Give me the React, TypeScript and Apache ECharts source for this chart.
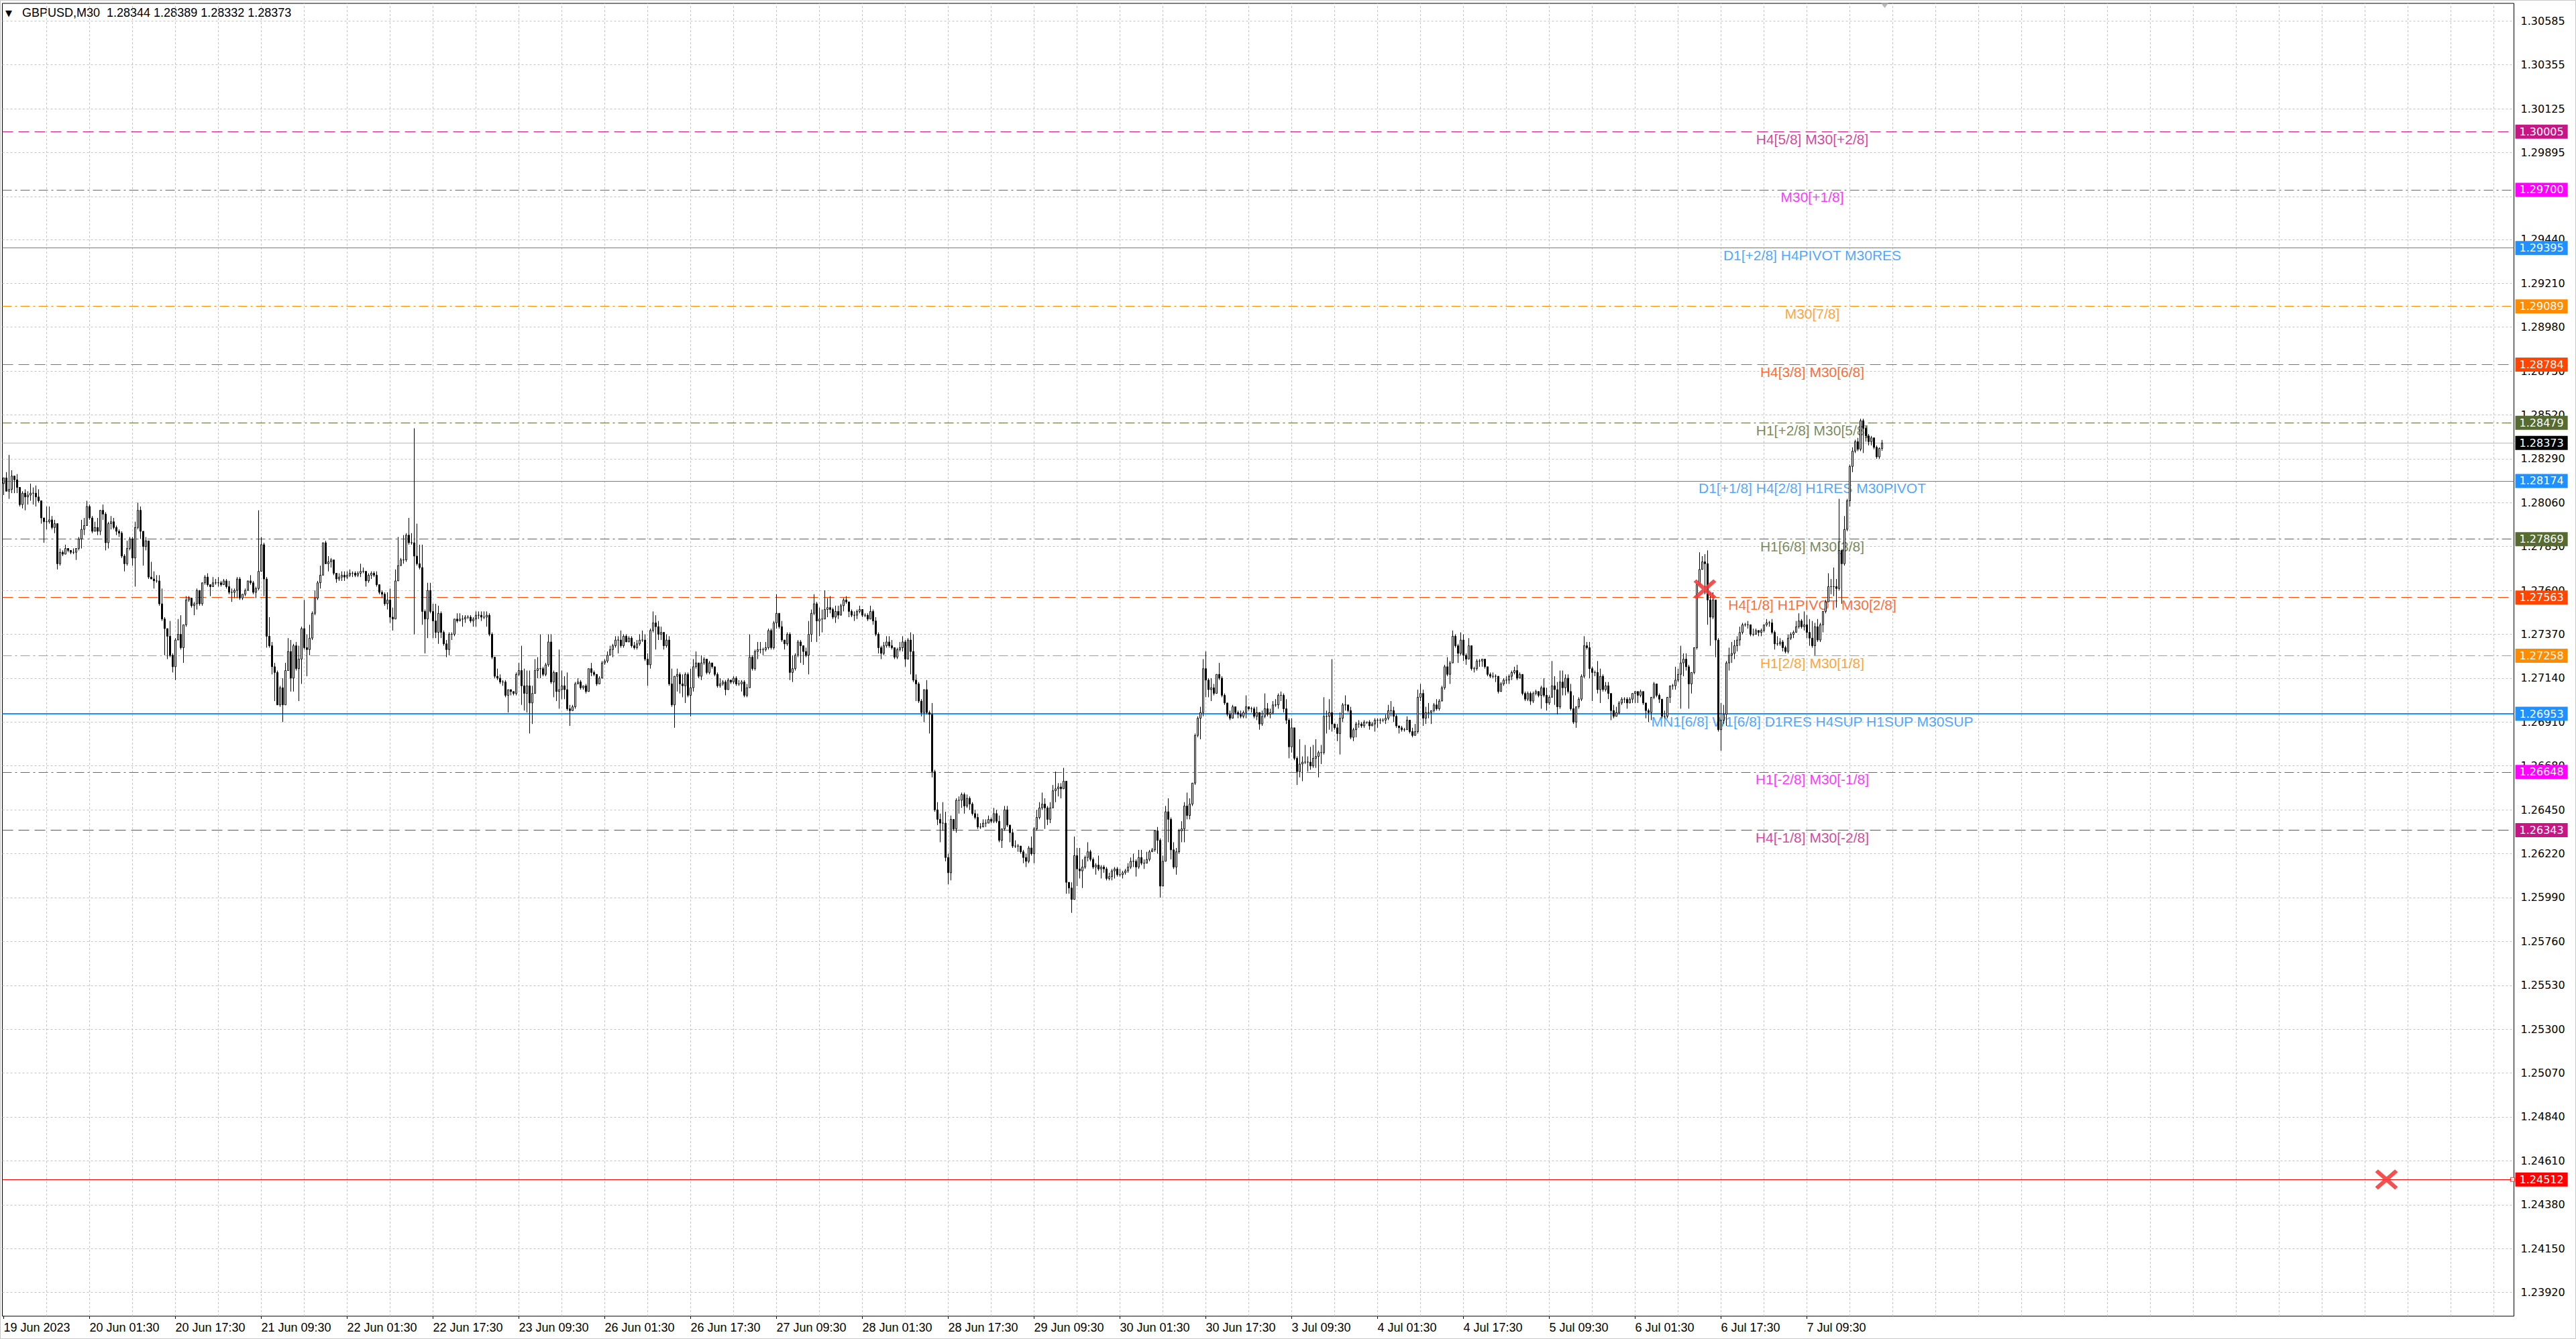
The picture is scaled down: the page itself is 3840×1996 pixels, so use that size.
import React, { useEffect, useRef } from 'react';
import * as echarts from 'echarts';

// GBPUSD M30 bars as [close, high, low], in pips above 1.2000 (817 -> 1.2817).
// The open of a bar is the close of the bar before it.
const firstOpen = 816;

const jun19 = [
  [819, 819, 810], [812, 822, 812], [813, 831, 808], [820, 823, 811], [818, 820, 811], [814, 821, 811], [805, 814, 804], [811, 812, 803], [809, 813, 802], [810, 812, 805],
  [811, 816, 807], [811, 814, 805], [809, 815, 804], [807, 813, 806], [798, 807, 795], [796, 798, 785], [796, 804, 792], [797, 804, 795], [793, 799, 792], [795, 797, 790],
  [774, 795, 771], [780, 782, 773], [779, 781, 778], [782, 784, 779], [781, 782, 780], [780, 781, 779], [780, 782, 779], [782, 782, 776], [787, 788, 781],
];
const jun20 = [
  [792, 797, 782], [794, 798, 789], [804, 807, 794], [798, 805, 797], [791, 799, 790], [793, 796, 791], [791, 798, 789], [802, 802, 789], [800, 805, 797], [785, 801, 781],
  [795, 796, 782], [796, 799, 792], [793, 798, 792], [791, 794, 789], [790, 792, 788], [778, 791, 777], [774, 779, 770], [782, 786, 773], [787, 788, 781], [777, 788, 773],
  [793, 796, 762], [802, 806, 792], [791, 804, 787], [783, 791, 773], [786, 788, 781], [767, 786, 766], [766, 775, 766], [765, 770, 761], [765, 768, 764], [753, 768, 752],
  [745, 761, 744], [740, 746, 726], [736, 740, 724], [726, 744, 725], [720, 727, 717], [734, 735, 713], [737, 745, 734], [730, 747, 729], [742, 742, 722], [755, 757, 741],
  [756, 757, 754], [752, 756, 751], [753, 754, 747], [760, 761, 750], [753, 760, 752], [764, 764, 752], [767, 768, 763], [763, 769, 762],
];
const jun21 = [
  [762, 763, 757], [764, 767, 762], [764, 766, 763], [764, 767, 762], [763, 765, 762], [765, 766, 763], [762, 766, 761], [759, 765, 758], [759, 761, 754], [760, 761, 756],
  [766, 767, 756], [756, 767, 755], [758, 758, 755], [760, 761, 757], [765, 765, 760], [764, 768, 763], [759, 765, 758], [761, 762, 756], [770, 802, 760], [784, 788, 770],
  [766, 785, 757], [736, 767, 730], [731, 746, 730], [720, 733, 716], [717, 722, 702], [700, 718, 700], [709, 710, 699], [700, 714, 691], [718, 722, 700], [728, 735, 718],
  [714, 734, 707], [731, 732, 707], [719, 733, 718], [724, 731, 702], [740, 741, 711], [730, 755, 729], [729, 737, 715], [735, 742, 726], [748, 749, 734], [756, 760, 747],
  [764, 765, 755], [768, 773, 761], [785, 785, 768], [774, 786, 774], [775, 778, 770], [776, 777, 772], [769, 776, 768], [766, 769, 764],
];
const jun22 = [
  [767, 769, 765], [768, 770, 765], [767, 770, 765], [768, 770, 766], [769, 771, 767], [769, 770, 767], [768, 770, 767], [769, 770, 767], [770, 774, 767], [770, 772, 769],
  [765, 770, 762], [768, 769, 764], [769, 770, 766], [768, 770, 767], [763, 770, 762], [759, 763, 758], [758, 760, 756], [753, 759, 752], [755, 759, 750], [746, 761, 743],
  [745, 751, 739], [765, 771, 747], [773, 788, 765], [776, 777, 773], [776, 789, 774], [789, 790, 775], [785, 798, 784], [785, 790, 784], [778, 845, 737], [774, 795, 773],
  [772, 784, 771], [749, 784, 742], [745, 750, 727], [760, 764, 735], [749, 764, 748], [744, 753, 735], [738, 753, 735], [748, 752, 732], [738, 749, 735], [732, 739, 731],
  [729, 734, 725], [737, 738, 726], [737, 738, 734], [745, 745, 736], [744, 748, 743], [745, 748, 744], [745, 747, 741], [746, 747, 743],
];
const jun23 = [
  [746, 747, 745], [744, 747, 743], [745, 746, 741], [747, 749, 741], [747, 749, 745], [746, 749, 744], [746, 749, 745], [747, 749, 741], [737, 748, 736], [725, 738, 724],
  [715, 725, 714], [714, 719, 713], [712, 716, 711], [712, 713, 710], [705, 713, 704], [708, 708, 696], [707, 708, 705], [706, 707, 705], [716, 717, 705], [718, 722, 715],
  [710, 731, 700], [706, 719, 697], [710, 718, 696], [701, 718, 685], [706, 710, 690], [718, 724, 706], [719, 725, 714], [719, 737, 714], [716, 720, 715], [721, 722, 715],
  [733, 737, 720], [712, 737, 711], [717, 718, 704], [707, 717, 702], [708, 729, 698], [710, 718, 703], [708, 715, 703], [698, 717, 697], [697, 700, 689], [699, 700, 697],
  [711, 712, 698], [712, 714, 711], [709, 713, 708], [710, 710, 708], [707, 711, 706], [719, 719, 707], [717, 722, 715], [716, 718, 715],
];
const jun26 = [
  [711, 711, 710], [714, 715, 712], [722, 723, 716], [723, 724, 721], [726, 728, 722], [729, 731, 726], [731, 732, 725], [734, 736, 730], [734, 736, 727], [731, 739, 730],
  [736, 737, 730], [733, 737, 733], [735, 736, 733], [731, 736, 730], [730, 733, 729], [732, 734, 729], [734, 737, 731], [734, 739, 733], [724, 737, 723], [721, 727, 710],
  [739, 740, 719], [743, 749, 738], [741, 747, 729], [737, 744, 734], [738, 741, 734], [731, 738, 729], [734, 737, 730], [711, 736, 710], [700, 719, 699], [715, 715, 688],
  [716, 719, 707], [711, 717, 706], [710, 716, 704], [716, 717, 701], [705, 717, 704], [709, 719, 694], [720, 724, 707], [722, 728, 719], [715, 722, 714], [722, 726, 713],
  [724, 725, 721], [717, 724, 716], [722, 723, 716], [720, 722, 719], [716, 720, 715], [710, 717, 709], [711, 714, 709], [712, 713, 710],
];
const jun27 = [
  [708, 713, 705], [713, 714, 708], [712, 713, 711], [714, 715, 711], [711, 715, 710], [711, 713, 710], [712, 713, 707], [705, 713, 704], [709, 711, 704], [725, 737, 709],
  [719, 726, 718], [728, 729, 718], [729, 733, 724], [729, 733, 727], [729, 730, 726], [730, 733, 728], [739, 740, 729], [730, 740, 729], [743, 744, 729], [748, 758, 740],
  [741, 748, 740], [734, 744, 733], [732, 734, 729], [737, 738, 731], [717, 738, 713], [719, 726, 712], [726, 727, 718], [733, 734, 725], [731, 734, 722], [728, 731, 721],
  [726, 730, 725], [737, 744, 716], [748, 750, 733], [753, 758, 747], [744, 754, 733], [745, 751, 736], [745, 750, 738], [750, 760, 745], [751, 756, 746], [750, 757, 748],
  [746, 751, 745], [749, 752, 743], [747, 752, 745], [752, 753, 747], [755, 756, 749], [754, 757, 753], [749, 754, 746], [747, 750, 746],
];
const jun28 = [
  [747, 749, 744], [749, 750, 745], [750, 752, 748], [747, 750, 746], [747, 748, 746], [745, 748, 744], [749, 752, 745], [744, 750, 742], [737, 746, 736], [730, 738, 727],
  [727, 731, 724], [731, 733, 726], [733, 736, 730], [731, 736, 730], [730, 734, 729], [725, 730, 724], [729, 730, 724], [730, 733, 728], [733, 736, 728], [724, 734, 720],
  [734, 735, 724], [728, 738, 716], [713, 737, 712], [711, 716, 702], [702, 712, 701], [696, 703, 694], [708, 708, 691], [696, 713, 695], [695, 697, 685], [665, 701, 662],
  [645, 666, 644], [640, 649, 637], [638, 643, 628], [638, 649, 634], [620, 644, 618], [612, 622, 606], [640, 642, 608], [635, 640, 634], [650, 651, 633], [650, 652, 643],
  [653, 654, 646], [647, 654, 643], [651, 653, 646], [648, 652, 645], [643, 649, 642], [641, 645, 640], [636, 643, 635], [636, 638, 635],
];
const jun29 = [
  [638, 640, 636], [638, 640, 636], [640, 642, 638], [639, 641, 638], [643, 646, 638], [639, 645, 638], [629, 642, 628], [635, 635, 625], [645, 647, 634], [637, 647, 636],
  [633, 637, 628], [626, 635, 625], [626, 629, 625], [626, 627, 623], [623, 626, 622], [620, 624, 617], [618, 622, 615], [625, 626, 617], [622, 631, 621], [635, 636, 617],
  [641, 645, 634], [646, 649, 640], [648, 654, 645], [646, 651, 635], [640, 647, 637], [646, 649, 638], [655, 658, 646], [656, 665, 649], [657, 659, 652], [656, 659, 651],
  [660, 667, 656], [607, 660, 601], [604, 607, 601], [598, 607, 591], [621, 631, 598], [614, 625, 605], [613, 625, 609], [615, 619, 604], [620, 621, 614], [623, 628, 618],
  [619, 624, 618], [615, 620, 614], [616, 617, 611], [614, 621, 613], [615, 616, 609], [614, 616, 612], [609, 615, 608], [610, 612, 608],
];
const jun30 = [
  [613, 614, 608], [614, 615, 609], [611, 615, 610], [611, 614, 610], [612, 613, 609], [613, 614, 611], [615, 617, 612], [618, 620, 614], [618, 622, 615], [615, 619, 610],
  [620, 624, 614], [617, 624, 616], [617, 619, 614], [619, 623, 617], [623, 624, 618], [624, 625, 623], [634, 634, 623], [629, 636, 622], [605, 630, 599], [618, 621, 605],
  [644, 647, 618], [640, 651, 628], [624, 641, 619], [615, 628, 614], [623, 625, 611], [634, 635, 622], [635, 639, 628], [647, 649, 628], [642, 654, 640], [648, 651, 640],
  [659, 659, 647], [684, 685, 658], [693, 694, 683], [696, 699, 682], [719, 724, 694], [713, 728, 704], [708, 714, 704], [709, 714, 702], [706, 711, 705], [716, 716, 706],
  [714, 722, 713], [705, 715, 704], [701, 706, 700], [695, 701, 694], [693, 697, 692], [699, 700, 693], [696, 699, 695], [695, 697, 693],
];
const jul3 = [
  [694, 697, 693], [696, 697, 693], [699, 705, 693], [698, 699, 697], [698, 699, 696], [694, 699, 693], [696, 699, 692], [690, 696, 687], [694, 697, 689], [698, 706, 693],
  [695, 701, 694], [696, 698, 693], [700, 702, 695], [700, 703, 699], [705, 706, 698], [705, 707, 702], [698, 706, 696], [692, 703, 690], [678, 693, 672], [688, 693, 675],
  [672, 688, 671], [665, 673, 658], [669, 682, 662], [670, 673, 660], [670, 679, 669], [670, 673, 665], [668, 678, 666], [672, 679, 667], [673, 682, 667], [675, 676, 662],
  [675, 679, 669], [694, 704, 674], [694, 697, 685], [696, 703, 687], [690, 724, 686], [688, 690, 687], [685, 690, 681], [693, 696, 674], [700, 701, 691], [700, 705, 697],
  [697, 700, 696], [683, 699, 682], [687, 688, 681], [690, 691, 683], [690, 692, 688], [689, 691, 688], [691, 692, 688], [691, 691, 690],
];
const jul4 = [
  [689, 692, 687], [690, 691, 689], [692, 693, 686], [692, 693, 688], [692, 693, 690], [692, 693, 691], [693, 695, 690], [697, 700, 692], [697, 702, 694], [694, 699, 691],
  [689, 695, 688], [688, 689, 685], [687, 689, 686], [687, 688, 686], [692, 694, 687], [686, 692, 685], [684, 688, 683], [686, 690, 684], [704, 708, 685], [706, 711, 702],
  [693, 708, 689], [696, 699, 690], [696, 701, 693], [697, 697, 690], [700, 701, 696], [698, 703, 697], [702, 703, 697], [709, 710, 702], [720, 721, 708], [716, 725, 715],
  [722, 723, 711], [736, 739, 722], [731, 737, 730], [727, 732, 722], [734, 738, 726], [726, 737, 723], [724, 727, 721], [731, 735, 724], [719, 731, 718], [719, 720, 717],
  [723, 724, 718], [723, 724, 720], [724, 724, 720], [720, 724, 719], [716, 720, 715], [715, 717, 714], [715, 717, 714], [715, 716, 712],
];
const jul5 = [
  [707, 711, 706], [711, 712, 708], [713, 714, 710], [713, 715, 711], [715, 716, 711], [717, 718, 713], [718, 720, 716], [714, 721, 713], [716, 717, 714], [706, 716, 705],
  [703, 707, 702], [706, 707, 702], [702, 707, 700], [706, 707, 701], [707, 708, 705], [705, 707, 704], [709, 710, 698], [705, 714, 704], [701, 709, 697], [704, 705, 700],
  [710, 723, 704], [708, 715, 700], [699, 712, 695], [712, 718, 698], [709, 718, 705], [714, 716, 705], [707, 716, 706], [698, 711, 697], [691, 705, 690], [699, 699, 688],
  [703, 704, 698], [715, 716, 702], [731, 736, 714], [730, 733, 729], [719, 733, 714], [717, 720, 702], [717, 718, 715], [708, 723, 706], [715, 719, 701], [708, 716, 707],
  [710, 712, 707], [706, 712, 703], [697, 706, 692], [694, 700, 693], [696, 699, 694], [701, 702, 695], [703, 704, 700], [703, 704, 701],
];
const jul6 = [
  [701, 704, 698], [703, 704, 701], [706, 706, 701], [707, 707, 701], [705, 707, 701], [707, 708, 704], [701, 707, 700], [697, 701, 693], [696, 698, 691], [704, 704, 692],
  [711, 712, 703], [705, 711, 704], [703, 706, 701], [694, 703, 693], [694, 697, 693], [704, 704, 693], [710, 710, 701], [710, 711, 708], [713, 720, 708], [716, 719, 712],
  [722, 731, 698], [724, 727, 715], [720, 727, 718], [711, 721, 698], [717, 717, 706], [730, 730, 716], [763, 764, 729], [771, 780, 763], [775, 778, 771], [774, 779, 758],
  [755, 781, 742], [746, 759, 731], [755, 759, 745], [734, 755, 725], [687, 735, 686], [692, 701, 676], [695, 700, 690], [722, 723, 689], [726, 730, 718], [727, 733, 722],
  [731, 734, 724], [734, 736, 728], [738, 741, 731], [742, 743, 737], [742, 743, 741], [742, 744, 740], [737, 742, 736], [737, 740, 736],
];
const jul7 = [
  [739, 740, 737], [738, 739, 736], [739, 740, 736], [742, 742, 738], [743, 745, 741], [743, 744, 741], [738, 745, 737], [732, 739, 729], [732, 736, 731], [733, 735, 731],
  [730, 734, 728], [728, 731, 727], [735, 737, 727], [737, 738, 734], [738, 739, 735], [741, 744, 738], [744, 748, 740], [741, 745, 740], [742, 749, 739], [738, 747, 735],
  [735, 745, 731], [731, 744, 730], [741, 743, 726], [734, 745, 733], [742, 743, 733], [749, 749, 738], [754, 755, 748], [762, 769, 754], [762, 766, 758], [762, 772, 757],
  [761, 766, 751], [781, 808, 760], [774, 781, 753], [792, 799, 773], [807, 808, 791], [825, 826, 804], [833, 835, 822], [838, 839, 832], [834, 840, 833], [849, 850, 833],
  [845, 850, 832], [841, 846, 838], [838, 842, 836], [840, 841, 836], [835, 840, 834], [830, 836, 829], [834.4, 835, 829], [837.3, 838.9, 833.2],
];

const sessions = [
  { day: '19 Jun', from: '09:30', bars: jun19 },
  { day: '20 Jun', from: '00:00', bars: jun20 },
  { day: '21 Jun', from: '00:00', bars: jun21 },
  { day: '22 Jun', from: '00:00', bars: jun22 },
  { day: '23 Jun', from: '00:00', bars: jun23 },
  { day: '26 Jun', from: '00:00', bars: jun26 },
  { day: '27 Jun', from: '00:00', bars: jun27 },
  { day: '28 Jun', from: '00:00', bars: jun28 },
  { day: '29 Jun', from: '00:00', bars: jun29 },
  { day: '30 Jun', from: '00:00', bars: jun30 },
  { day: '3 Jul', from: '00:00', bars: jul3 },
  { day: '4 Jul', from: '00:00', bars: jul4 },
  { day: '5 Jul', from: '00:00', bars: jul5 },
  { day: '6 Jul', from: '00:00', bars: jul6 },
  { day: '7 Jul', from: '00:00', bars: jul7 },
];

const yTickValues = [
  1.30585, 1.30355, 1.30125, 1.29895, 1.29665, 1.2944, 1.2921, 1.2898, 1.2875, 1.2852,
  1.2829, 1.2806, 1.2783, 1.276, 1.2737, 1.2714, 1.2691, 1.2668, 1.2645, 1.2622,
  1.2599, 1.2576, 1.2553, 1.253, 1.2507, 1.2484, 1.2461, 1.2438, 1.2415, 1.2392,
];
const hiddenTickValues = [1.29665];

const levelPrices = [1.30005, 1.297, 1.29395, 1.29089, 1.28784, 1.28479, 1.28174, 1.27869, 1.27563, 1.27258, 1.26953, 1.26648, 1.26343];
const levelNames = [
  'H4[5/8] M30[+2/8]',
  'M30[+1/8]',
  'D1[+2/8] H4PIVOT M30RES',
  'M30[7/8]',
  'H4[3/8] M30[6/8]',
  'H1[+2/8] M30[5/8]',
  'D1[+1/8] H4[2/8] H1RES M30PIVOT',
  'H1[6/8] M30[3/8]',
  'H4[1/8] H1PIVOT M30[2/8]',
  'H1[2/8] M30[1/8]',
  'MN1[6/8] W1[6/8] D1RES H4SUP H1SUP M30SUP',
  'H1[-2/8] M30[-1/8]',
  'H4[-1/8] M30[-2/8]',
];
const levelKinds = ['violet', 'magenta', 'blue', 'orange', 'red', 'olive', 'blue', 'olive', 'red', 'orange', 'blueBold', 'magenta', 'violet'];

const lastPrice = 1.28373;
const stopPrice = 1.24512;
// red cross objects: [bar slot, price]
const crossMarks = [[634, 1.27606], [888, 1.24512]];

const headerText = 'GBPUSD,M30  1.28344 1.28389 1.28332 1.28373';

const levelStyles: Record<string, { color: string; type: any; width: number }> = {
  violet: { color: '#C71585', type: [16, 8], width: 1 },
  magenta: { color: '#FF00FF', type: [14, 5, 3, 5], width: 1 },
  blue: { color: '#1E90FF', type: 'solid', width: 1 },
  blueBold: { color: '#1E90FF', type: 'solid', width: 2 },
  orange: { color: '#FF8C00', type: [14, 5, 3, 5], width: 1 },
  red: { color: '#FF4500', type: [16, 8], width: 1 },
  olive: { color: '#556B2F', type: [14, 5, 3, 5], width: 1 },
};

const SLOT_COUNT = 936; // plot width / 4px per bar, incl. the shifted empty area
const LABEL_SLOT = 674;
const Y_MIN = 1.237955;
const Y_MAX = 1.306775;
const CROSS_PATH = 'path://M0,1.3L1.3,0L5,3.7L8.7,0L10,1.3L6.3,5L10,8.7L8.7,10L5,6.3L1.3,10L0,8.7L3.7,5Z';

const toPrice = (p: number) => +(1.2 + p / 10000).toFixed(5);

function buildBars() {
  const categories: string[] = [];
  const candles: number[][] = [];
  let prev = firstOpen;
  sessions.forEach(s => {
    const [h, m] = s.from.split(':').map(Number);
    s.bars.forEach(([c, hi, lo], k) => {
      const t = h * 60 + m + k * 30;
      const hh = String(Math.floor(t / 60)).padStart(2, '0');
      const mm = String(t % 60).padStart(2, '0');
      categories.push(categories.length === 0 ? `${s.day} 2023` : `${s.day} ${hh}:${mm}`);
      candles.push([toPrice(prev), toPrice(c), toPrice(Math.min(lo, prev, c)), toPrice(Math.max(hi, prev, c))]);
      prev = c;
    });
  });
  const barCount = candles.length;
  for (let i = barCount; i < SLOT_COUNT; i++) categories.push(`slot${i}`);
  return { categories, candles, barCount };
}

export default function App() {
  const chartRef = useRef<HTMLDivElement>(null);

  useEffect(() => {
    if (!chartRef.current) return;
    const chart = echarts.init(chartRef.current, undefined, { renderer: 'svg' });
    const { categories, candles, barCount } = buildBars();
    const isTimeLabel = (i: number) => i % 32 === 0 && i < barCount;

    const gridLine = { color: '#c4c4c4', type: [3, 3], width: 1 };
    const gridItems: any[] = yTickValues.map(v => ({
      yAxis: v,
      lineStyle: gridLine,
      label: {
        show: !hiddenTickValues.includes(v),
        position: 'end',
        distance: 10,
        formatter: v.toFixed(5),
        color: '#000',
        fontFamily: 'DejaVu Sans',
        fontSize: 16,
      },
    }));
    for (let i = 16; i < SLOT_COUNT; i += 16) {
      gridItems.push({ xAxis: i, lineStyle: gridLine, label: { show: false } });
    }

    const tag = (v: number, bg: string) => ({
      show: true,
      position: 'end',
      distance: 2,
      formatter: v.toFixed(5),
      color: '#fff',
      backgroundColor: bg,
      padding: [3, 6, 2, 6],
      fontFamily: 'DejaVu Sans',
      fontSize: 16,
    });
    const levelItems: any[] = levelPrices.map((v, i) => {
      const st = levelStyles[levelKinds[i]];
      return { yAxis: v, lineStyle: { color: st.color, type: st.type, width: st.width }, label: tag(v, st.color) };
    });
    levelItems.push({ yAxis: lastPrice, lineStyle: { color: '#b8b8b8', type: 'solid', width: 1 }, label: tag(lastPrice, '#000') });
    levelItems.push({ yAxis: stopPrice, lineStyle: { color: '#ff0000', type: 'solid', width: 1 }, label: tag(stopPrice, '#ff0000') });

    chart.setOption({
      animation: false,
      backgroundColor: '#fff',
      textStyle: { fontFamily: 'Liberation Sans' },
      grid: {
        // half-pixel offset keeps 1px wicks and candle borders crisp
        left: 3.5, top: 5, width: 3744, height: 1957,
        show: true, borderColor: '#000', borderWidth: 1, backgroundColor: '#fff',
      },
      xAxis: {
        type: 'category',
        data: categories,
        boundaryGap: true,
        axisLine: { show: false },
        axisTick: { show: true, alignWithLabel: true, interval: isTimeLabel, length: 4, lineStyle: { color: '#000' } },
        axisLabel: {
          interval: isTimeLabel,
          align: 'left',
          margin: 8,
          color: '#000',
          fontFamily: 'Liberation Sans',
          fontSize: 18,
        },
        splitLine: { show: false },
      },
      yAxis: {
        type: 'value',
        min: Y_MIN,
        max: Y_MAX,
        position: 'right',
        axisLine: { show: false },
        axisTick: { show: false },
        axisLabel: { show: false },
        splitLine: { show: false },
      },
      graphic: [
        { type: 'rect', silent: true, shape: { x: 0.5, y: 0.5, width: 3839, height: 1995 }, style: { fill: 'none', stroke: '#c8c8c8', lineWidth: 1 } },
        { type: 'text', silent: true, left: 8, top: 13, style: { text: '▼', font: '13px "DejaVu Sans"', fill: '#000' } },
        { type: 'text', silent: true, left: 33, top: 10, style: { text: headerText, font: '18px "Liberation Sans"', fill: '#000' } },
      ],
      series: [
        {
          name: 'grid',
          type: 'line',
          data: [],
          clip: false,
          silent: true,
          markLine: { silent: true, precision: 6, symbol: ['none', 'none'], z: 1, data: gridItems },
        },
        {
          name: 'levels',
          type: 'line',
          data: [],
          clip: false,
          silent: true,
          markLine: { silent: true, precision: 6, symbol: ['none', 'none'], z: 2, data: levelItems },
        },
        {
          name: 'level names',
          type: 'scatter',
          z: 2,
          silent: true,
          clip: false,
          symbolSize: 1,
          itemStyle: { color: 'rgba(0,0,0,0)' },
          data: levelPrices.map((v, i) => ({
            value: [LABEL_SLOT, v],
            label: { color: levelStyles[levelKinds[i]].color },
          })),
          label: {
            show: true,
            position: 'bottom',
            distance: 0,
            fontFamily: 'Liberation Sans',
            fontSize: 21,
            formatter: (p: any) => levelNames[p.dataIndex],
          },
        },
        {
          name: 'GBPUSD',
          type: 'candlestick',
          z: 3,
          large: false,
          barWidth: 2,
          silent: true,
          data: candles,
          itemStyle: {
            color: '#ffffff',
            color0: '#000000',
            borderColor: '#000000',
            borderColor0: '#000000',
            borderColorDoji: '#000000',
            borderWidth: 1,
          },
        },
        {
          name: 'crosses',
          type: 'scatter',
          z: 6,
          silent: true,
          clip: false,
          symbol: CROSS_PATH,
          symbolSize: [34, 30],
          itemStyle: { color: '#ef3e3e', opacity: 0.9 },
          data: crossMarks,
        },
        {
          name: 'stop end',
          type: 'scatter',
          z: 6,
          silent: true,
          clip: false,
          symbol: 'rect',
          symbolSize: 6,
          itemStyle: { color: '#ffffff', borderColor: '#ff0000', borderWidth: 1 },
          data: [[SLOT_COUNT - 1, stopPrice]],
        },
        {
          name: 'shift',
          type: 'scatter',
          z: 6,
          silent: true,
          clip: false,
          symbol: 'triangle',
          symbolRotate: 180,
          symbolSize: [12, 8],
          symbolOffset: [0, 3],
          itemStyle: { color: '#a8a8a8' },
          data: [[barCount, Y_MAX]],
        },
      ],
    });

    return () => {
      chart.dispose();
    };
  }, []);

  return (
    <div style={{ position: 'absolute', left: 0, top: 0, width: 3840, height: 1996, background: '#fff' }}>
      <div ref={chartRef} style={{ width: 3840, height: 1996 }} />
    </div>
  );
}
